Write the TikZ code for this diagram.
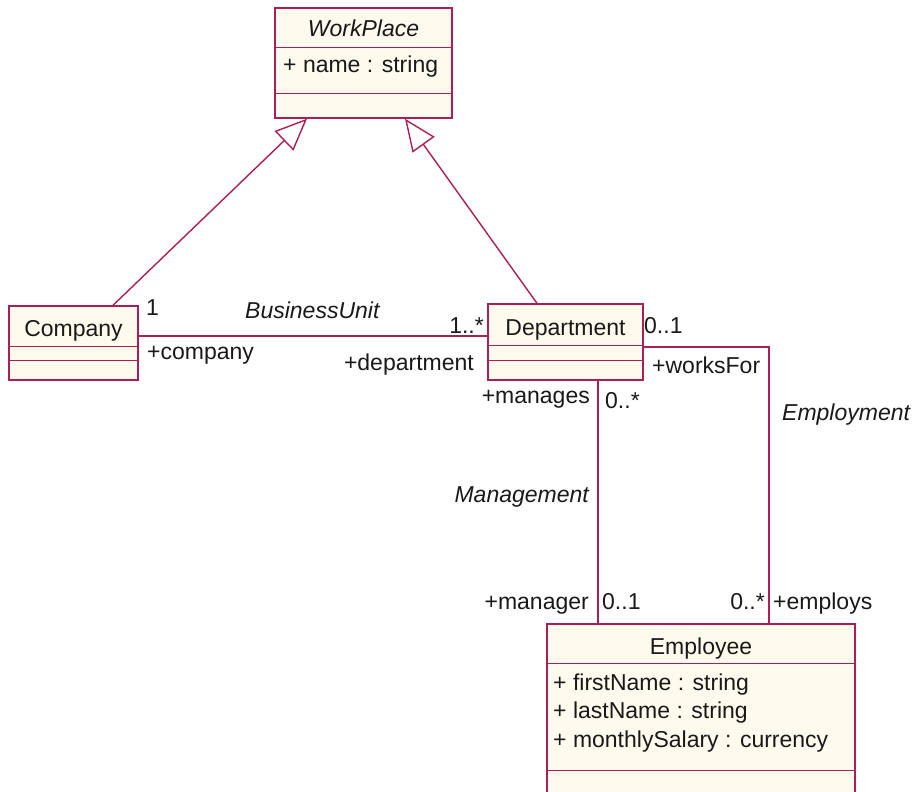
\documentclass[tikz,border=0pt]{standalone}
\usepackage{fontspec}
\setmainfont{Liberation Sans}
\usetikzlibrary{arrows.meta}
\definecolor{umlline}{RGB}{172,30,86}
\definecolor{umlfill}{RGB}{255,250,238}
\definecolor{umltext}{RGB}{25,25,25}
\begin{document}
\begin{tikzpicture}[x=1pt,y=-1pt,
  every node/.style={font=\fontsize{23}{27}\selectfont, text=umltext},
  classbox/.style={draw=umlline, fill=umlfill, line width=1.4pt, rectangle, inner sep=0pt},
  compline/.style={draw=umlline, line width=1.4pt},
  assoc/.style={draw=umlline, line width=1.4pt},
  gen/.style={draw=umlline, line width=1.4pt, -{Triangle[open, length=32pt, width=27pt]}},
  lbl/.style={inner sep=0pt},
  assocname/.style={inner sep=0pt, font=\fontsize{23}{27}\selectfont\itshape}
]
\useasboundingbox (0,0) rectangle (918,792);

% ---------- classes ----------
\node[classbox, minimum width=177pt, minimum height=110pt] (wp) at (363.5,63) {};
\draw[compline] ([yshift=-40pt]wp.north west) -- ([yshift=-40pt]wp.north east);
\draw[compline] ([yshift=-86pt]wp.north west) -- ([yshift=-86pt]wp.north east);
\node[lbl, anchor=base, font=\fontsize{23}{27}\selectfont\itshape] (wpname) at (363.5,37) {WorkPlace};
\node[lbl, anchor=base west] (wpattr) at (283,73) {+ name : string};

\node[classbox, minimum width=129pt, minimum height=74pt] (comp) at (73.5,343) {};
\draw[compline] ([yshift=-41pt]comp.north west) -- ([yshift=-41pt]comp.north east);
\draw[compline] ([yshift=-55pt]comp.north west) -- ([yshift=-55pt]comp.north east);
\node[lbl, anchor=base] (compname) at (73.5,336) {Company};

\node[classbox, minimum width=155pt, minimum height=76pt] (dept) at (565.5,342) {};
\draw[compline] ([yshift=-42pt]dept.north west) -- ([yshift=-42pt]dept.north east);
\draw[compline] ([yshift=-57pt]dept.north west) -- ([yshift=-57pt]dept.north east);
\node[lbl, anchor=base] (deptname) at (565.5,335) {Department};

\node[classbox, minimum width=308pt, minimum height=200pt] (emp) at (701,724) {};
\draw[compline] ([yshift=-40pt]emp.north west) -- ([yshift=-40pt]emp.north east);
\draw[compline] ([yshift=-147pt]emp.north west) -- ([yshift=-147pt]emp.north east);
\node[lbl, anchor=base] (empname) at (701,654) {Employee};
\node[lbl, anchor=base west] (empa1) at (553,690) {+ firstName : string};
\node[lbl, anchor=base west] (empa2) at (553,718) {+ lastName : string};
\node[lbl, anchor=base west] (empa3) at (553,747) {+ monthlySalary : currency};

% ---------- generalizations ----------
\draw[gen] ([xshift=39.5pt]comp.north) -- ([xshift=-56.5pt]wp.south);
\draw[gen] ([xshift=-28.5pt]dept.north) -- ([xshift=41.5pt]wp.south);

% ---------- associations ----------
\coordinate (bu) at ([yshift=7pt]comp.east);
\draw[assoc] (bu) -- (bu -| dept.west);
\coordinate (mgx) at (598,0);
\draw[assoc] (dept.south -| mgx) -- (emp.north -| mgx);
\coordinate (emx) at (769,0);
\draw[assoc] ([yshift=-5pt]dept.east) -| (emp.north -| emx);

% ---------- association names ----------
\node[assocname, anchor=base west] (buname) at (245,318) {BusinessUnit};
\node[assocname, anchor=base east] (mgname) at (589,502) {Management};
\node[assocname, anchor=base west] (emname) at (782,420) {Employment};

% ---------- roles and multiplicities ----------
\node[lbl, anchor=base west] (m1) at (146,315) {1};
\node[lbl, anchor=base west] (r1) at (147,359) {+company};
\node[lbl, anchor=base east] (m2) at (484,333) {1..*};
\node[lbl, anchor=base east] (r2) at (474,370) {+department};
\node[lbl, anchor=base west] (m3) at (644,333) {0..1};
\node[lbl, anchor=base west] (r3) at (652,373) {+worksFor};
\node[lbl, anchor=base east] (r4) at (590,403) {+manages};
\node[lbl, anchor=base west] (m4) at (605,408) {0..*};
\node[lbl, anchor=base east] (r5) at (589,609) {+manager};
\node[lbl, anchor=base west] (m5) at (602,609) {0..1};
\node[lbl, anchor=base east] (m6) at (765,609) {0..*};
\node[lbl, anchor=base west] (r6) at (773,609) {+employs};
\end{tikzpicture}
\end{document}
